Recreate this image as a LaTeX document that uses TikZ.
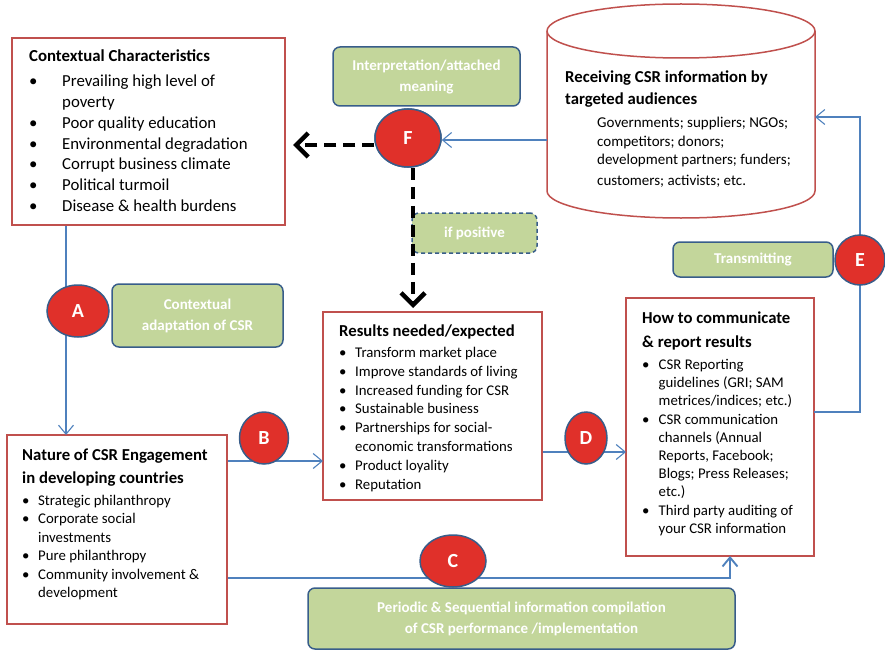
\documentclass[tikz,border=0pt]{standalone}
\usepackage{fontspec}
\setmainfont{Carlito}
\usepackage{array}
\usetikzlibrary{arrows.meta,shapes.geometric}
\definecolor{boxred}{HTML}{C0504D}
\definecolor{dotred}{HTML}{E0302A}
\definecolor{edgeblue}{HTML}{385D8A}
\definecolor{lineblue}{HTML}{4F81BD}
\definecolor{tagfill}{HTML}{C3D69B}
\newcommand\ttl[1]{\multicolumn{2}{@{}l@{}}{\bfseries\fontsize{16.7}{16.7}\selectfont #1}}
\tikzstyle{redline}=[draw=boxred,line width=1.5pt]
\tikzstyle{redbox}=[redline,fill=white,inner sep=0pt]
\tikzstyle{tagbox}=[draw=edgeblue,fill=tagfill,line width=1.5pt,rounded corners=7pt,text=white,align=center,font=\bfseries\fontsize{15}{21}\selectfont,inner sep=0pt]
\tikzstyle{badge}=[ellipse,draw=edgeblue,fill=dotred,line width=1.5pt,text=white,font=\bfseries\fontsize{20}{20}\selectfont,inner sep=0pt]
\tikzstyle{txt}=[anchor=base west,inner sep=0pt]
\tikzstyle{flowline}=[draw=lineblue,line width=1.1pt]
\tikzstyle{flow}=[flowline,-{Straight Barb[length=9pt,width=15pt]}]
\tikzstyle{hintarrow}=[draw=black,line width=4.5pt,dash pattern=on 12pt off 7pt,-{Straight Barb[length=12pt,width=24pt]}]
\begin{document}
\begin{tikzpicture}[x=1pt,y=-1pt]
	\useasboundingbox (0,0) rectangle (885,650);
	% boxes
	\node[redbox,minimum width=273pt,minimum height=187pt] (ctx) at (148.5,131.5) {};
	\node[redbox,minimum width=220pt,minimum height=189pt] (nat) at (117,529.5) {};
	\node[redbox,minimum width=219pt,minimum height=188pt] (res) at (432.5,406) {};
	\node[redbox,minimum width=188pt,minimum height=258pt] (how) at (720,427) {};
	\draw[redline,fill=white] (547,31) -- (547,191) arc[start angle=180,end angle=360,x radius=134pt,y radius=27pt]
		-- (815,31) arc[start angle=0,end angle=180,x radius=134pt,y radius=27pt] -- cycle;
	\draw[redline] (547,31) arc[start angle=180,end angle=360,x radius=134pt,y radius=27pt];
	% texts
	\node[txt] (ctxtext) at (29,61.7) {\fontsize{16.8}{20.8}\selectfont
		\begin{tabular}[t]{@{}p{33pt}@{}l@{}}
		\multicolumn{2}{@{}l@{}}{\bfseries Contextual Characteristics}\\[4.2pt]
		\textbullet & Prevailing high level of\\
		            & poverty\\
		\textbullet & Poor quality education\\
		\textbullet & Environmental degradation\\
		\textbullet & Corrupt business climate\\
		\textbullet & Political turmoil\\
		\textbullet & Disease \& health burdens
		\end{tabular}};
	\node[txt] (nattext) at (22,460) {\fontsize{14.8}{18.4}\selectfont
		\begin{tabular}[t]{@{}p{16pt}@{}l@{}}
		\ttl{Nature of CSR Engagement}\\[4.6pt]
		\ttl{in developing countries}\\[4pt]
		\textbullet & Strategic philanthropy\\
		\textbullet & Corporate social\\
		            & investments\\
		\textbullet & Pure philanthropy\\
		\textbullet & Community involvement \&\\
		            & development
		\end{tabular}};
	\node[txt] (restext) at (339,336) {\fontsize{14.8}{18.8}\selectfont
		\begin{tabular}[t]{@{}p{16pt}@{}l@{}}
		\ttl{Results needed/expected}\\[2.6pt]
		\textbullet & Transform market place\\
		\textbullet & Improve standards of living\\
		\textbullet & Increased funding for CSR\\
		\textbullet & Sustainable business\\
		\textbullet & Partnerships for social-\\
		            & economic transformations\\
		\textbullet & Product loyality\\
		\textbullet & Reputation
		\end{tabular}};
	\node[txt] (howtext) at (642,323) {\fontsize{14.8}{18.2}\selectfont
		\begin{tabular}[t]{@{}p{16.5pt}@{}l@{}}
		\ttl{How to communicate}\\[5.8pt]
		\ttl{\& report results}\\[4.2pt]
		\textbullet & CSR Reporting\\
		            & guidelines (GRI; SAM\\
		            & metrices/indices; etc.)\\
		\textbullet & CSR communication\\
		            & channels (Annual\\
		            & Reports, Facebook;\\
		            & Blogs; Press Releases;\\
		            & etc.)\\
		\textbullet & Third party auditing of\\
		            & your CSR information
		\end{tabular}};
	\node[txt] (recvtext) at (565,83) {\fontsize{15}{18.3}\selectfont
		\begin{tabular}[t]{@{}p{32pt}@{}l@{}}
		\ttl{Receiving CSR information by}\\[3.7pt]
		\ttl{targeted audiences}\\[4.5pt]
		& Governments; suppliers; NGOs;\\
		& competitors; donors;\\
		& development partners; funders;\\[2.5pt]
		& customers; activists; etc.
		\end{tabular}};
	% labels
	\node[tagbox,minimum width=187pt,minimum height=59pt] (interp) at (426.5,76.5) {Interpretation/attached\\meaning};
	\node[tagbox,minimum width=171pt,minimum height=63pt] (adapt) at (197.5,315.5) {Contextual\\adaptation of CSR};
	\node[tagbox,dash pattern=on 4pt off 3pt,minimum width=125pt,minimum height=40pt] (positive) at (474.5,233) {if positive};
	\node[tagbox,minimum width=160pt,minimum height=35pt] (trans) at (753,259.5) {Transmitting};
	\node[tagbox,minimum width=427pt,minimum height=61pt] (period) at (521.5,618.5) {Periodic \& Sequential information compilation\\of CSR performance /implementation};
	% connectors
	\coordinate (ain) at (66,435);
	\coordinate (bin) at (323,461);
	\coordinate (din) at (626,452);
	\coordinate (cout) at (227,578);
	\coordinate (cin) at (730,556);
	\coordinate (hout) at (814,412);
	\coordinate (rin) at (815,117);
	\coordinate (fin) at (547,140);
	\coordinate (fl) at (293,145);
	\coordinate (fd) at (413,308);
	\node[badge,minimum width=66pt,minimum height=58pt] (F) at (408,138) {};
	\draw[flow] (ain |- ctx.south) -- (ain);
	\draw[flow] (nat.east |- bin) -- (bin);
	\draw[flow] (res.east |- din) -- (din);
	\draw[flow,line width=1.9pt] (nat.east |- cout) -| (cin);
	\draw[flowline] (hout) -| (860,285);
	\draw[flow] (860,235) |- (rin);
	\draw[flow] (fin) -- (fin -| F.east);
	\draw[hintarrow] (F.west |- fl) -- (fl);
	\draw[hintarrow] (fd |- F.south) -- (fd);
	% badges
	\node[badge,minimum width=66pt,minimum height=58pt] at (F) {F};
	\node[badge,minimum width=62pt,minimum height=52pt] (A) at (78,311) {A};
	\node[badge,minimum width=49pt,minimum height=52pt] (B) at (264,438) {B};
	\node[badge,minimum width=66pt,minimum height=52pt] (C) at (453,561) {C};
	\node[badge,minimum width=42pt,minimum height=52pt] (D) at (586,438) {D};
	\node[badge,minimum width=50pt,minimum height=50pt] (E) at (860,260) {E};
\end{tikzpicture}
\end{document}
